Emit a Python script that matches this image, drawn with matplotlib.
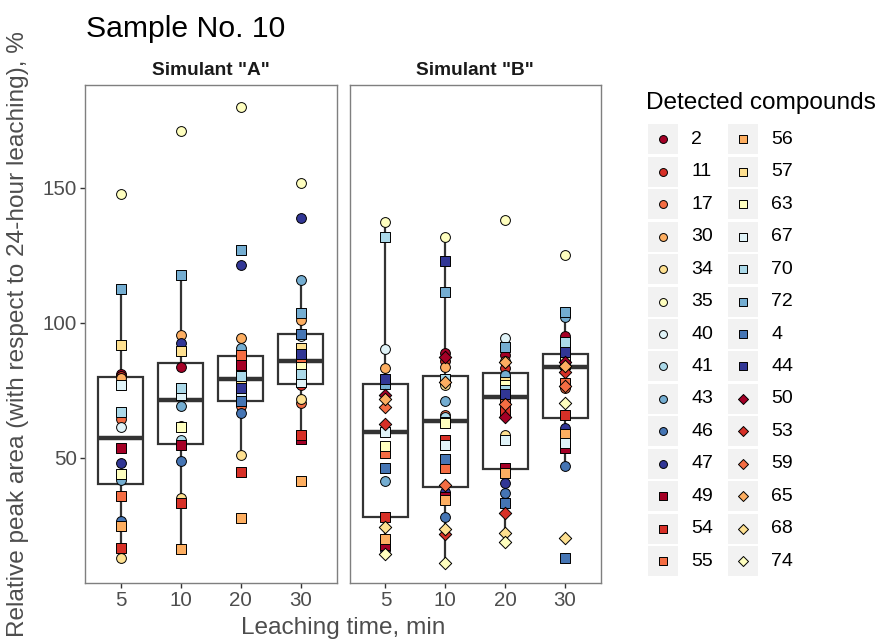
import numpy as np
import matplotlib
matplotlib.use("Agg")
import matplotlib.pyplot as plt
from matplotlib.patches import Rectangle

plt.rcParams["font.family"] = ["Liberation Sans", "DejaVu Sans"]

nan = np.nan

# Datos: compuestos detectados y área relativa (%) por simulante y tiempo
compuestos = ["2", "11", "17", "30", "34", "35", "40", "41", "43", "46", "47",
              "49", "54", "55", "56", "57", "63", "67", "70", "72", "4", "44",
              "50", "53", "59", "65", "68", "74"]
tiempos = ["5", "10", "20", "30"]

a_5 = [81, 80.5, 64.3, 79.7, 13.1, 147.9, 61.4, 43, 42, 26.7, 48.3,
       53.6, 16.6, 36, 24.9, 91.7, 44.1, 76.9, 66.9, 112.7, nan, nan,
       nan, nan, nan, nan, nan, nan]
a_10 = [83.6, 55.3, 62, 95.5, 35, 171.2, 74, 56.7, 69.4, 48.9, 92.5,
        54.8, 33.4, 76, 16.3, 89.6, 61.5, 73.3, 75.8, 117.8, nan, nan,
        nan, nan, nan, nan, nan, nan]
a_20 = [84.2, 82.8, 69.3, 94.6, 51.1, 180, 87, 77, 90.6, 66.5, 121.5,
        84.5, 44.9, 88, 27.7, 78.3, 71.5, 74.6, 80.4, 126.9, 71, 76,
        nan, nan, nan, nan, nan, nan]
a_30 = [85, 77, 70.5, 100.9, 71.9, 151.9, 95.3, 80, 115.9, 88.8, 138.8,
        57, 58.5, 86.5, 41.5, 90.6, 83.8, 78.3, 81, 103.6, 96, 88.5,
        nan, nan, nan, nan, nan, nan]

b_5 = [nan, nan, nan, 83.2, nan, 137.3, 90.3, nan, 41.5, nan, 16,
       17.8, 28.3, 51.7, 20, nan, 54.6, 59.5, 132, 77.3, 46.2, 79.4,
       73.3, 62.6, 69, 71.9, 24.6, 14.4]
b_10 = [89, 86, 66, 83.6, 77, 132, 64, 65.1, 71.2, 28.3, 37.5,
        35.5, 56.7, 46.2, 34.4, 63.5, 62.8, 54.8, 79.1, 111.3, 49.5, 123.1,
        87.3, 21.7, 40, 78, 23.6, 11.2]
b_20 = [88.1, 83.2, 74, 86, 58.5, 138.1, 94.3, 80, 80.7, 37.2, 40.6,
        46.4, 67.4, 71.5, 44.6, 78.3, 77, 56.7, 75.2, 91, 33.2, 73.5,
        65.1, 29.5, 70, 85.7, 22.1, 18.8]
b_30 = [95.3, 92, 75.8, 85, 83.5, 125.2, 87, 88, 102.3, 47.1, 61,
        53.8, 66, 77.7, 58.8, 84.8, 86, 55.4, 93.1, 104.2, 12.9, 89.4,
        85.5, 82, 76.5, 84.1, 20.5, 70.5]

simulantes = {'Simulant "A"': [a_5, a_10, a_20, a_30],
              'Simulant "B"': [b_5, b_10, b_20, b_30]}

# Estilos: paleta RdYlBu de 11 colores y forma por grupo de compuestos
rdylbu = ["#a50026", "#d73027", "#f46d43", "#fdae61", "#fee090", "#ffffbf",
          "#e0f3f8", "#abd9e9", "#74add1", "#4575b4", "#313695"]
colores = rdylbu + rdylbu + rdylbu[:6]
formas = ["o"] * 11 + ["s"] * 11 + ["D"] * 6
tamanos = {"o": 50, "s": 44, "D": 40}

gris_texto = "#4d4d4d"
gris_linea = "#333333"

fig = plt.figure(figsize=(8.84, 6.44), dpi=100)

W, H = 884, 644
paneles = [(85, 251.5), (349.5, 251.5)]
top_px, bottom_px = 85, 583

for i, (nombre, valores) in enumerate(simulantes.items()):
    left_px, width_px = paneles[i]
    ax = fig.add_axes([left_px / W, 1 - bottom_px / H, width_px / W, (bottom_px - top_px) / H])
    posiciones = np.arange(1, len(tiempos) + 1)

    # boxplot con los valores presentes de cada tiempo
    datos_box = [[v for v in col if not np.isnan(v)] for col in valores]
    ax.boxplot(datos_box, positions=posiciones, widths=0.75, whis=1.5,
               showfliers=False, showcaps=False, patch_artist=True,
               boxprops=dict(facecolor="white", edgecolor=gris_linea, linewidth=1.6),
               whiskerprops=dict(color=gris_linea, linewidth=1.6),
               medianprops=dict(color=gris_linea, linewidth=3.2),
               zorder=1)

    # puntos de cada compuesto
    for k, comp in enumerate(compuestos):
        ys = np.array([col[k] for col in valores], dtype=float)
        ok = ~np.isnan(ys)
        if not ok.any():
            continue
        ax.scatter(posiciones[ok], ys[ok], marker=formas[k], s=tamanos[formas[k]],
                   facecolor=colores[k], edgecolor="black", linewidth=0.7, zorder=3)

    ax.set_xlim(0.4, 4.6)
    ax.set_ylim(3.7, 188.1)
    ax.set_xticks(posiciones)
    ax.set_xticklabels(tiempos)
    ax.set_yticks([50, 100, 150])
    ax.tick_params(direction="out", length=3.5, width=1, color=gris_linea,
                   labelsize=14.8, labelcolor=gris_texto, pad=2)
    if i > 0:
        ax.tick_params(axis="y", left=False, labelleft=False)
    for sp in ax.spines.values():
        sp.set_color("#7f7f7f")
        sp.set_linewidth(1)

    fig.text((left_px + width_px / 2) / W, 1 - 75 / H, nombre, ha="center", va="baseline",
             fontsize=13.8, fontweight="bold", color="#1a1a1a")

# Títulos
fig.text(86 / W, 1 - 36.7 / H, "Sample No. 10", fontsize=21.7, va="baseline", ha="left")
fig.text(18 / W, 1 - 334 / H, "Relative peak area (with respect to 24-hour leaching), %",
         rotation=90, ha="center", va="center", fontsize=17.6, color=gris_texto)
fig.text(343 / W, 1 - 628 / H, "Leaching time, min", ha="center", va="center",
         fontsize=17.6, color=gris_texto)

# Leyenda dibujada a mano (dos columnas con fondo gris)
leg = fig.add_axes([0, 0, 1, 1])
leg.set_xlim(0, W)
leg.set_ylim(H, 0)
leg.axis("off")
leg.text(646.5, 103, "Detected compounds", fontsize=17.6, va="center", ha="left")

fila_y0, paso = 139.3, 32.45
key_x = [647.5, 727.5]
label_x = [691.5, 771]
for k, comp in enumerate(compuestos):
    col = k // 14
    fila = k % 14
    yc = fila_y0 + fila * paso
    leg.add_patch(Rectangle((key_x[col], yc - 15), 30, 30, facecolor="#f2f2f2", edgecolor="none"))
    leg.scatter(key_x[col] + 15, yc, marker=formas[k], s=tamanos[formas[k]] * 0.65,
                facecolor=colores[k], edgecolor="black", linewidth=0.7)
    leg.text(label_x[col], yc, comp, fontsize=14, va="center", ha="left")

plt.savefig("out.png", dpi=100)
